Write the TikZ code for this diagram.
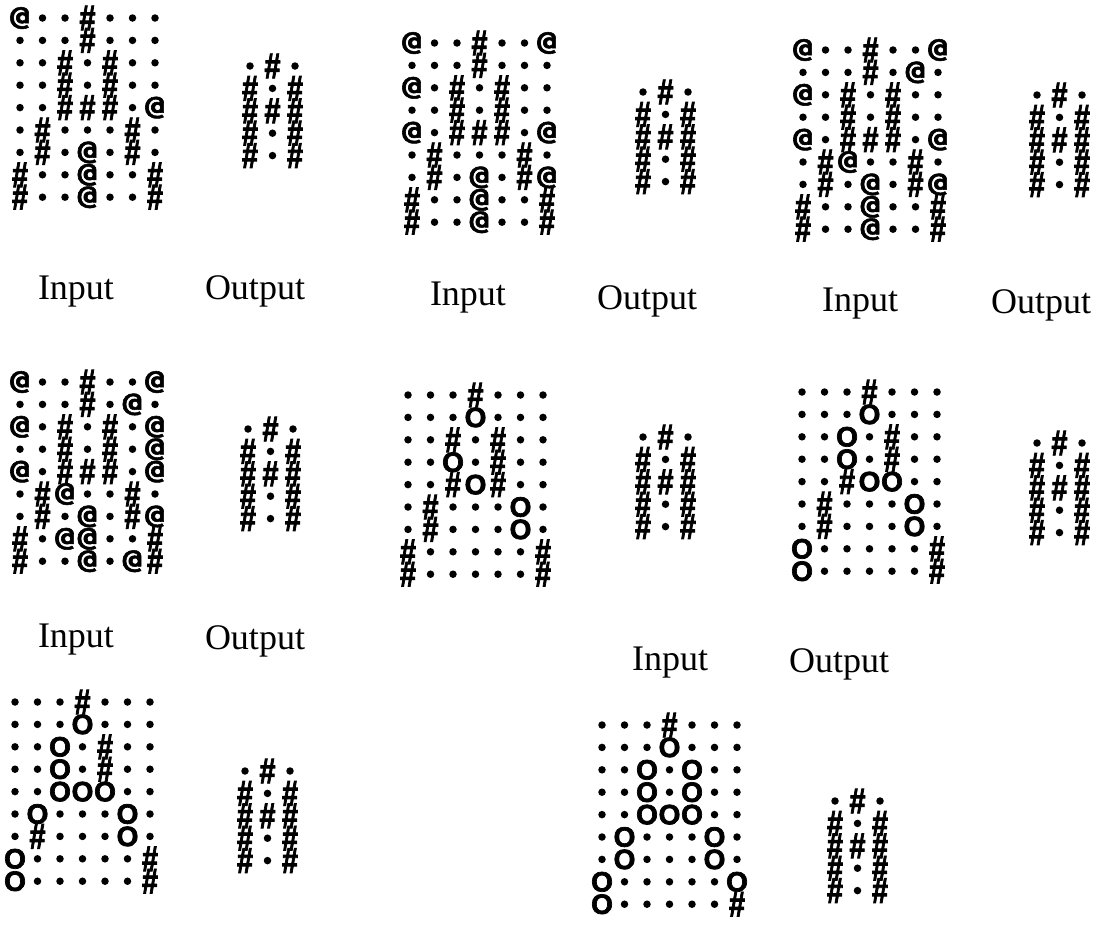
\documentclass[tikz,border=0pt]{standalone}
\usepackage{fontspec}
\usepackage{graphicx}
\setmainfont{Liberation Serif}
\newfontfamily\gridsans{Liberation Sans Bold}[FakeBold=2.5]
\newfontfamily\gridmono{DejaVu Sans Mono Bold}[FakeBold=2]

% glyph drawn in a cell: d = dot, h = hash, a = at sign, o = ring
\newcommand{\glyphd}{}
\newcommand{\glyphh}{\scalebox{0.8}[1]{\#}}
\newcommand{\glypha}{\scalebox{1.25}[1]{@}}
\newcommand{\glypho}{O}

% #1 name, #2 x of first column, #3 y of first row, #4 rows
\newcommand{\chargrid}[4]{%
  \foreach \cells [count=\r from 0] in {#4} {
    \foreach \c [count=\k from 0] in \cells {
      \node[cell \c] (#1-\r-\k) at ({#2+22.5*\k},{#3+22.4*\r}) {\csname glyph\c\endcsname};
    }
  }%
}

\begin{document}
\begin{tikzpicture}[
  x=1pt,y=-1pt,
  cell d/.style={
    circle,
    fill=black,
    inner sep=0pt,
    minimum size=7.5pt
  },
  cell h/.style={
    inner sep=0pt,
    font=\fontsize{36}{36}\selectfont\gridsans
  },
  cell a/.style={
    inner sep=0pt,
    font=\fontsize{26}{26}\selectfont\gridmono
  },
  cell o/.style={
    inner sep=0pt,
    font=\fontsize{28}{28}\selectfont\gridsans
  },
  caption/.style={
    anchor=base,
    inner sep=0pt,
    font=\fontsize{36}{40}\selectfont
  }
]
  \useasboundingbox (0,0) rectangle (1102,924);

  % First row of pairs: inputs with @ noise.
  \chargrid{in1}{20}{18}{
    {a,d,d,h,d,d,d},{d,d,d,h,d,d,d},{d,d,h,d,h,d,d},
    {d,d,h,d,h,d,d},{d,d,h,h,h,d,a},{d,h,d,d,d,h,d},
    {d,h,d,a,d,h,d},{h,d,d,a,d,d,h},{h,d,d,a,d,d,h}}
  \chargrid{out1}{250}{66}{
    {d,h,d},{h,d,h},{h,h,h},{h,d,h},{h,d,h}}

  \chargrid{in2}{412}{43}{
    {a,d,d,h,d,d,a},{d,d,d,h,d,d,d},{a,d,h,d,h,d,d},
    {d,d,h,d,h,d,d},{a,d,h,h,h,d,a},{d,h,d,d,d,h,d},
    {d,h,d,a,d,h,a},{h,d,d,a,d,d,h},{h,d,d,a,d,d,h}}
  \chargrid{out2}{643}{92}{
    {d,h,d},{h,d,h},{h,h,h},{h,d,h},{h,d,h}}

  \chargrid{in3}{803}{50}{
    {a,d,d,h,d,d,a},{d,d,d,h,d,a,d},{a,d,h,d,h,d,d},
    {d,d,h,d,h,d,d},{a,d,h,h,h,d,a},{d,h,a,d,d,h,d},
    {d,h,d,a,d,h,a},{h,d,d,a,d,d,h},{h,d,d,a,d,d,h}}
  \chargrid{out3}{1037}{95}{
    {d,h,d},{h,d,h},{h,h,h},{h,d,h},{h,d,h}}

  \node[caption] (lin1) at (76,299) {Input};
  \node[caption] (lout1) at (255,299) {Output};
  \node[caption] (lin2) at (468,305) {Input};
  \node[caption] (lout2) at (647,309) {Output};
  \node[caption] (lin3) at (860,311) {Input};
  \node[caption] (lout3) at (1041,313) {Output};

  % Second row of pairs: more @ noise, then missing pixels (O).
  \chargrid{in4}{20}{382}{
    {a,d,d,h,d,d,a},{d,d,d,h,d,a,d},{a,d,h,d,h,d,a},
    {d,d,h,d,h,d,a},{a,d,h,h,h,d,a},{d,h,a,d,d,h,d},
    {d,h,d,a,d,h,a},{h,d,a,a,d,d,h},{h,d,d,a,d,a,h}}
  \chargrid{out4}{248}{429}{
    {d,h,d},{h,d,h},{h,h,h},{h,d,h},{h,d,h}}

  \chargrid{in5}{408}{395}{
    {d,d,d,h,d,d,d},{d,d,d,o,d,d,d},{d,d,h,d,h,d,d},
    {d,d,o,d,h,d,d},{d,d,h,o,h,d,d},{d,h,d,d,d,o,d},
    {d,h,d,d,d,o,d},{h,d,d,d,d,d,h},{h,d,d,d,d,d,h}}
  \chargrid{out5}{643}{437}{
    {d,h,d},{h,d,h},{h,h,h},{h,d,h},{h,d,h}}

  \chargrid{in6}{802}{392}{
    {d,d,d,h,d,d,d},{d,d,d,o,d,d,d},{d,d,o,d,h,d,d},
    {d,d,o,d,h,d,d},{d,d,h,o,o,d,d},{d,h,d,d,d,o,d},
    {d,h,d,d,d,o,d},{o,d,d,d,d,d,h},{o,d,d,d,d,d,h}}
  \chargrid{out6}{1037}{443}{
    {d,h,d},{h,d,h},{h,h,h},{h,d,h},{h,d,h}}

  \node[caption] (lin4) at (76,647) {Input};
  \node[caption] (lout4) at (255,649) {Output};
  \node[caption] (lin5) at (670,670) {Input};
  \node[caption] (lout5) at (839,672) {Output};

  % Third row: the two inputs with the most pixels missing.
  \chargrid{in7}{15}{702}{
    {d,d,d,h,d,d,d},{d,d,d,o,d,d,d},{d,d,o,d,h,d,d},
    {d,d,o,d,h,d,d},{d,d,o,o,o,d,d},{d,o,d,d,d,o,d},
    {d,h,d,d,d,o,d},{o,d,d,d,d,d,h},{o,d,d,d,d,d,h}}
  \chargrid{out7}{245}{771}{
    {d,h,d},{h,d,h},{h,h,h},{h,d,h},{h,d,h}}

  \chargrid{in8}{602}{725}{
    {d,d,d,h,d,d,d},{d,d,d,o,d,d,d},{d,d,o,d,o,d,d},
    {d,d,o,d,o,d,d},{d,d,o,o,o,d,d},{d,o,d,d,d,o,d},
    {d,o,d,d,d,o,d},{o,d,d,d,d,d,o},{o,d,d,d,d,d,h}}
  \chargrid{out8}{835}{801}{
    {d,h,d},{h,d,h},{h,h,h},{h,d,h},{h,d,h}}
\end{tikzpicture}
\end{document}
